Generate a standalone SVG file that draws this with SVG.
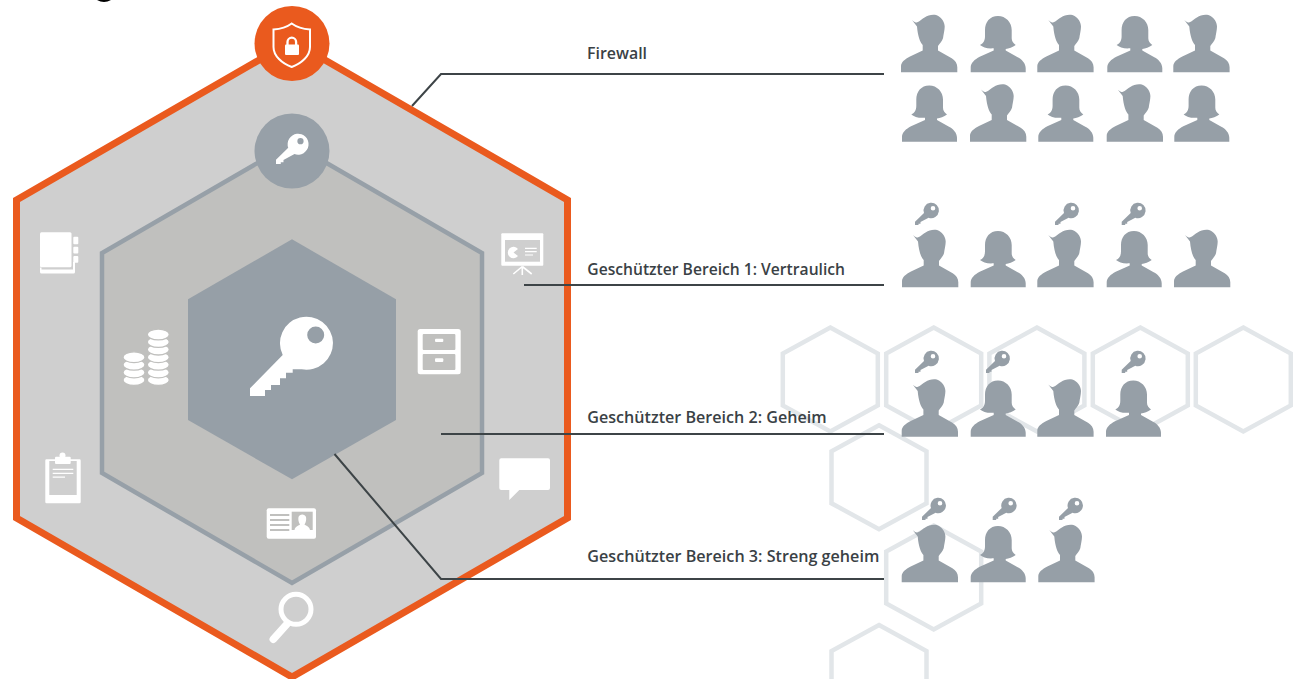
<svg xmlns="http://www.w3.org/2000/svg" width="1293" height="679" viewBox="0 0 1293 679">
<style>
.bg{fill:none;stroke:#e2e6e9;stroke-width:4.5}
.p{fill:#969fa7}
.w{fill:#fff}
.k{fill:#969fa7;fill-rule:evenodd}
.kw{fill:#fff;fill-rule:evenodd}
.con{fill:none;stroke:#3d4447;stroke-width:2}
.lbl{font-family:"Open Sans","Liberation Sans",sans-serif;font-weight:600;font-size:15.800px;fill:#3a4145}
.line{fill:none;stroke:#fff}
.coin{fill:#fff;stroke:#c0c0be;stroke-width:1.3}
.mid{fill:#c0c0be}
</style>
<defs>
<polygon id="hx" points="0,-52 47.500,-26 47.500,26 0,52 -47.500,26 -47.500,-26"/>
<path id="man" d="M0 0V-6C0-10 4-13 9-15.700L21.700-21.700V-27.300C19-30 16.800-36 16-45.700L11-52.300C13-50.500 14.500-49.700 15.700-49.700C19-50.500 21-54 24-55C27-57.500 34-58.500 37.300-56.300C41-54 43.700-50 43.700-45.700C43.700-42 42.500-38 42-34C41-31 38.500-28.500 37-26.300V-21.700L50.700-14C54-12 56.300-9 56.300-5V0Z"/>
<path id="woman" d="M0 0V-5C0-9 4-13 9-15.500L23-21.700V-24C17-23.300 12-25 9.300-27.300C13-29 14.300-32 14.300-36V-42.300C14.300-50 19-56.300 27.300-56.300C35-56.300 41-50 41-42.300V-34C41-31 42.500-29 45-27.300C42-25 38-23.500 35-23.300V-21.700L47-15C51-13 55-9 55-4V0Z"/>
<path id="key" d="M0-3.200L9-11.900A7.700 7.700 0 1 1 13.600-7.300L5.500-3H5.500V-1.300H3.500V0H0ZM20.300-16.800a2.300 2.300 0 1 0-4.600 0a2.300 2.300 0 1 0 4.600 0Z"/>
</defs>

<g id="background-hexagons">
<use href="#hx" class="bg" x="830.300" y="379.500"/>
<use href="#hx" class="bg" x="933.700" y="379.500"/>
<use href="#hx" class="bg" x="1036.900" y="379.500"/>
<use href="#hx" class="bg" x="1140.300" y="379.500"/>
<use href="#hx" class="bg" x="1243.300" y="379.500"/>
<use href="#hx" class="bg" x="879" y="477.300"/>
<use href="#hx" class="bg" x="933.700" y="577.500"/>
<use href="#hx" class="bg" x="879" y="677"/>
</g>

<path id="clipped-mark" d="M97 0Q104 4 111 0Z" fill="#000"/>

<g id="firewall-zone">
<polygon points="292,41 567.500,200 567.500,518 292,677 16.500,518 16.500,200" fill="#cfcfcf" stroke="#ea5a1e" stroke-width="7"/>
</g>
<g id="zone-1">
<polygon points="292,143 482,253 482,473 292,583 102,473 102,253" class="mid" stroke="#97a0a8" stroke-width="4.500"/>
</g>
<g id="zone-3">
<polygon points="292,239.300 396,299.300 396,420 292,479.300 188,420 188,299.300" fill="#969fa7"/>
<path class="w" fill-rule="evenodd" d="M282.700 355A26.500 26.500 0 1 1 301.700 369.300H292.700V372.700H286V378.300H280V385H271V390H265V396H250V388.300ZM324.200 335a8.500 8.500 0 1 0-17 0a8.500 8.500 0 1 0 17 0Z"/>
</g>

<g id="connectors">
<polyline class="con" points="412,106 441,74 884,74"/>
<polyline class="con" points="524,285 884,285"/>
<polyline class="con" points="441,434 884,434"/>
<polyline class="con" points="334.500,454 441,579 884,579"/>
</g>

<g id="firewall-badge">
<circle cx="292" cy="43.500" r="37.500" fill="#ea5a1e"/>
<path d="M291.700 23.500C287 27 281 29 273.500 29.500V47C273.500 56 282 63.500 291.700 67C301.500 63.500 310 56 310 47V29.500C302.500 29 296.500 27 291.700 23.500Z" fill="none" stroke="#fff" stroke-width="2"/>
<rect class="w" x="285" y="44.500" width="14" height="10.500" rx="1"/>
<path d="M287.500 45V42a4.300 4.300 0 0 1 8.600 0V45" fill="none" stroke="#fff" stroke-width="2.300"/>
</g>
<g id="key-badge">
<circle cx="292" cy="151" r="37.500" fill="#97a0a8"/>
<use href="#key" class="kw" transform="translate(276,164) scale(1.36)"/>
</g>

<g id="icon-notebook">
<rect class="w" x="40" y="232.300" width="31.500" height="35" rx="1.500"/>
<path class="w" d="M40 267.500H41.500V269.500H73V262H75V272A1.500 1.500 0 0 1 73.500 273.500H41.500A1.500 1.500 0 0 1 40 272Z"/>
<rect class="w" x="73.300" y="236.700" width="5" height="7.500" rx="1"/>
<rect class="w" x="73.300" y="246.700" width="5" height="6.800" rx="1"/>
<rect class="w" x="73.300" y="256" width="5" height="6.700" rx="1"/>
</g>
<g id="icon-presentation">
<rect class="w" x="501.300" y="233.300" width="42" height="32.500" rx="1"/>
<rect x="505" y="240" width="35" height="21.700" fill="#cfcfcf"/>
<path class="w" d="M518 249A5.700 5.700 0 1 0 518 256L513.500 252.500Z"/>
<path class="line" stroke-width="1.200" d="M525 248.300H536.700M525 251.700H536.700M525 255H533"/>
<path class="line" stroke-width="1.600" d="M522.300 266.500L513.300 274M522.300 266.500L531.700 274M522.300 266.500V275"/>
</g>
<g id="icon-cabinet">
<rect class="w" x="417.700" y="329" width="43" height="45.300" rx="2.500"/>
<rect class="mid" x="422.700" y="334" width="32.700" height="16" rx="1"/>
<rect class="mid" x="422.700" y="354" width="32.700" height="16" rx="1"/>
<rect class="w" x="435" y="338.700" width="8.300" height="3.400" rx="1"/>
<rect class="w" x="435" y="358.300" width="8.300" height="3.600" rx="1"/>
</g>
<g id="icon-coins">
<ellipse class="coin" cx="158.300" cy="380" rx="11" ry="5.400"/>
<ellipse class="coin" cx="158.300" cy="372.400" rx="11" ry="5.400"/>
<ellipse class="coin" cx="158.300" cy="364.800" rx="11" ry="5.400"/>
<ellipse class="coin" cx="158.300" cy="357.200" rx="11" ry="5.400"/>
<ellipse class="coin" cx="158.300" cy="349.600" rx="11" ry="5.400"/>
<ellipse class="coin" cx="158.300" cy="342" rx="11" ry="5.400"/>
<ellipse class="coin" cx="158.300" cy="334.500" rx="11" ry="5.400"/>
<ellipse class="coin" cx="134" cy="380" rx="11" ry="5.400"/>
<ellipse class="coin" cx="134" cy="372.400" rx="11" ry="5.400"/>
<ellipse class="coin" cx="134" cy="364.800" rx="11" ry="5.400"/>
<ellipse class="coin" cx="134" cy="357.200" rx="11" ry="5.400"/>
</g>
<g id="icon-chat">
<path class="w" d="M501 458.300H548A2 2 0 0 1 550 460.300V488A2 2 0 0 1 548 490H519.300L509.300 500V490H501.300A2 2 0 0 1 499.300 488V460.300A2 2 0 0 1 501.300 458.300Z"/>
</g>
<g id="icon-clipboard">
<path class="w" d="M46.500 459.300H79.500A1.200 1.200 0 0 1 80.700 460.500V502A1.300 1.300 0 0 1 79.400 503.300H46.600A1.300 1.300 0 0 1 45.300 502V460.500A1.200 1.200 0 0 1 46.500 459.300Z"/>
<path d="M49.300 461H76.700V495H49.300Z" fill="#cfcfcf"/>
<rect class="w" x="55" y="456.700" width="15.700" height="7.300" rx="1"/>
<circle class="w" cx="62.500" cy="455.500" r="3"/>
<path class="line" stroke-width="1.200" d="M52.700 469.300H73.300M52.700 473.300H73.300M52.700 477.200H65"/>
</g>
<g id="icon-id-card">
<rect class="w" x="266.700" y="508.300" width="49.300" height="30.400" rx="2"/>
<path fill="none" stroke="#c0c0be" stroke-width="1.800" d="M270 515H289.300M270 520H289.300M270 525H289.300M270 530H289.300"/>
<rect x="291.700" y="511.700" width="21" height="18.300" class="mid"/>
<path class="w" d="M294.500 530C295 526.500 299 525.500 300 524.500C298.500 522 298 519.500 298.500 517C299.500 513.500 305 513.500 306 517C306.500 519.500 306 522 304.500 524.500C305.500 525.500 309.500 526.500 310 530Z"/>
</g>
<g id="icon-magnifier">
<circle cx="296" cy="609.300" r="15" fill="none" stroke="#fff" stroke-width="5"/>
<path d="M287 624L273.300 639.300" fill="none" stroke="#fff" stroke-width="7.500" stroke-linecap="round"/>
</g>

<g id="labels">
<text class="lbl" x="587" y="59" textLength="60" lengthAdjust="spacingAndGlyphs">Firewall</text>
<text class="lbl" x="587.300" y="275" textLength="257.700" lengthAdjust="spacingAndGlyphs">Geschützter Bereich 1: Vertraulich</text>
<text class="lbl" x="587.300" y="423" textLength="239.400" lengthAdjust="spacingAndGlyphs">Geschützter Bereich 2: Geheim</text>
<text class="lbl" x="587.300" y="562" textLength="292" lengthAdjust="spacingAndGlyphs">Geschützter Bereich 3: Streng geheim</text>
</g>

<g id="users-firewall">
<use href="#man" class="p" x="901" y="72.300"/>
<use href="#woman" class="p" x="970.700" y="72.300"/>
<use href="#man" class="p" x="1037.300" y="72.300"/>
<use href="#woman" class="p" x="1107.300" y="72.300"/>
<use href="#man" class="p" x="1173.300" y="72.300"/>
<use href="#woman" class="p" x="902" y="141.700"/>
<use href="#man" class="p" x="970" y="141.700"/>
<use href="#woman" class="p" x="1038.300" y="141.700"/>
<use href="#man" class="p" x="1106.700" y="141.700"/>
<use href="#woman" class="p" x="1174.300" y="141.700"/>
</g>
<g id="users-zone-1">
<use href="#man" class="p" x="902" y="287.300"/>
<use href="#woman" class="p" x="970.700" y="287.300"/>
<use href="#man" class="p" x="1037.300" y="287.300"/>
<use href="#woman" class="p" x="1106.700" y="287.300"/>
<use href="#man" class="p" x="1174" y="287.300"/>
<use href="#key" class="k" x="915" y="225"/>
<use href="#key" class="k" x="1055" y="225"/>
<use href="#key" class="k" x="1121.700" y="225"/>
</g>
<g id="users-zone-2">
<use href="#man" class="p" x="901.700" y="436.700"/>
<use href="#woman" class="p" x="970.700" y="436.700"/>
<use href="#man" class="p" x="1037.300" y="436.700"/>
<use href="#woman" class="p" x="1106" y="436.700"/>
<use href="#key" class="k" x="915" y="373"/>
<use href="#key" class="k" x="986" y="373"/>
<use href="#key" class="k" x="1121.700" y="373"/>
</g>
<g id="users-zone-3">
<use href="#man" class="p" x="901.700" y="582.300"/>
<use href="#woman" class="p" x="970.700" y="582.300"/>
<use href="#man" class="p" x="1038.300" y="582.300"/>
<use href="#key" class="k" x="922" y="520"/>
<use href="#key" class="k" x="992.700" y="520"/>
<use href="#key" class="k" x="1059" y="520"/>
</g>
</svg>
